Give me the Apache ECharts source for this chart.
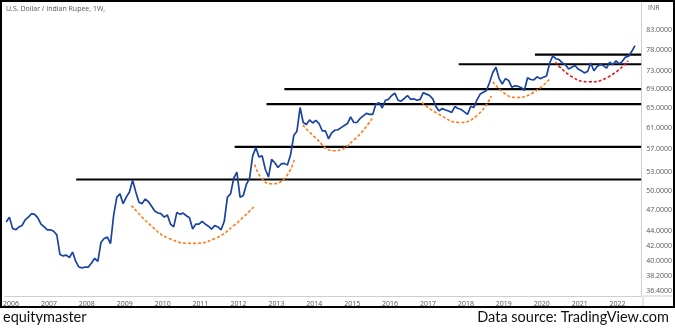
<!DOCTYPE html>
<html><head><meta charset="utf-8">
<script src="https://cdn.jsdelivr.net/npm/echarts@6/dist/echarts.min.js"></script>
<style>html,body{margin:0;padding:0;background:#fff}#c{width:675px;height:328px}</style>
</head><body><div id="c"></div>
<script>
// Monthly closes, USD/INR, starting Nov 2005
const startYear = 2005, startMonth = 11;
const usdInr = [
  45.3, 46.0,                                                             // 2005
  44.4, 44.2, 44.6, 44.8, 45.6, 46.0, 46.5, 46.4, 45.9, 45.0, 44.6, 44.2, // 2006
  44.2, 44.0, 43.5, 40.9, 40.7, 40.8, 40.5, 41.2, 40.0, 39.3, 39.2, 39.3, // 2007
  39.3, 39.8, 40.4, 40.0, 42.5, 43.0, 43.2, 42.3, 46.3, 49.0, 49.5, 48.0, // 2008
  49.0, 49.8, 51.7, 49.8, 48.2, 48.0, 48.7, 48.3, 47.6, 46.9, 46.6, 46.5, // 2009
  46.0, 46.3, 45.0, 44.6, 46.7, 46.4, 46.6, 46.2, 45.9, 44.3, 45.0, 45.0, // 2010
  45.4, 45.0, 44.7, 44.3, 44.8, 44.6, 44.2, 45.4, 49.0, 49.5, 52.0, 53.0, // 2011
  49.0, 49.2, 51.0, 52.0, 55.8, 57.3, 55.6, 55.8, 53.5, 52.2, 55.2, 54.6, // 2012
  53.8, 54.4, 54.5, 54.2, 56.0, 59.5, 60.3, 65.0, 62.0, 61.6, 62.5, 61.9, // 2013
  62.4, 61.8, 60.4, 60.4, 58.9, 60.0, 60.5, 60.6, 61.0, 61.4, 61.8, 63.1, // 2014
  62.0, 62.0, 62.8, 63.3, 63.8, 63.6, 63.6, 65.7, 66.0, 64.9, 66.5, 66.7, // 2015
  67.5, 68.0, 66.5, 66.3, 66.9, 67.5, 66.7, 66.8, 66.5, 66.7, 68.1, 67.8, // 2016
  67.5, 66.8, 65.2, 64.3, 64.8, 64.5, 64.3, 64.0, 65.2, 64.8, 64.6, 64.1, // 2017
  63.6, 65.2, 65.0, 66.6, 67.8, 68.2, 68.6, 70.4, 72.6, 73.8, 71.2, 70.0, // 2018
  71.2, 70.8, 69.3, 69.6, 69.5, 69.2, 68.6, 71.4, 71.0, 70.9, 71.6, 71.2, // 2019
  71.5, 71.8, 74.8, 76.5, 75.8, 75.6, 74.8, 74.4, 73.4, 73.8, 74.2, 73.4, // 2020
  73.0, 72.5, 72.8, 74.8, 73.0, 74.0, 74.4, 74.2, 73.6, 75.0, 74.4, 75.3, // 2021
  74.6, 75.2, 76.2, 76.4, 77.6, 79.0                                      // 2022
];
const yearTicks = [2006,2007,2008,2009,2010,2011,2012,2013,2014,2015,2016,2017,2018,2019,2020,2021,2022];
const priceTicks = [36.4, 38.2, 40, 42, 44, 47, 50, 53, 57, 61, 65, 69, 73, 78, 83];
const xMin = 2005.837, xMax = 2022.621;
const yMin = 35.87, yMax = 90.95;
// Horizontal resistance levels and the year where each starts
const resistanceLevels = [51.8, 57.4, 65.7, 68.9, 74.5, 76.8];
const resistanceStarts = [2007.72, 2011.90, 2012.74, 2013.21, 2017.81, 2019.82];
// Rounded bottoms (dashed arcs): [year, price]
const arcA = [[2009.18,47.7],[2009.73,44.6],[2010.17,43.0],[2010.78,42.35],[2011.38,43.0],[2011.90,44.9],[2012.40,47.5]];
const arcB = [[2012.43,54.3],[2012.61,52.0],[2012.87,51.1],[2013.22,52.0],[2013.48,55.3]];
const arcC = [[2013.70,61.5],[2014.00,59.3],[2014.52,56.7],[2015.05,58.7],[2015.54,63.0]];
const arcD = [[2016.84,66.0],[2017.31,63.5],[2017.84,62.0],[2018.31,63.5],[2018.67,67.4]];
const arcE = [[2018.71,70.5],[2019.01,68.0],[2019.32,67.1],[2019.75,68.0],[2020.23,71.3]];
const arcF = [[2020.36,75.0],[2020.80,71.6],[2021.24,70.5],[2021.76,71.6],[2022.28,75.3]];

const priceData = usdInr.map((v, i) => {
  const m = startMonth - 1 + i;
  const yr = startYear + Math.floor(m / 12);
  const mo = m % 12;
  return [yr + (mo + 0.5) / 12, v];
});

const series = [];
resistanceLevels.forEach((lv, i) => {
  series.push({ type: 'line', data: [[resistanceStarts[i], lv], [xMax, lv]], symbol: 'none',
    lineStyle: { color: '#000', width: 2.2 }, z: 2, silent: true });
});
[[arcA,'#ff7a1a'],[arcB,'#ff7a1a'],[arcC,'#ff7a1a'],[arcD,'#ff7a1a'],[arcE,'#ff7a1a'],[arcF,'#e8141c']].forEach(([arc, col]) => {
  series.push({ type: 'line', data: arc, symbol: 'none', smooth: true,
    lineStyle: { color: col, width: 1.6, type: [3, 2] }, z: 3, silent: true });
});
series.push({ type: 'line', data: priceData, symbol: 'none',
  lineStyle: { color: '#1a42a0', width: 1.7 }, z: 5 });

const chart = echarts.init(document.getElementById('c'), null, { renderer: 'canvas' });
chart.setOption({
  animation: false,
  backgroundColor: '#fff',
  grid: { left: 1, right: 32, top: 1, bottom: 32 },
  xAxis: {
    type: 'value', min: xMin, max: xMax,
    axisLine: { show: true, lineStyle: { color: '#cfcfcf', width: 1 } },
    axisTick: { show: false },
    splitLine: { show: false },
    axisLabel: { customValues: yearTicks, formatter: v => String(Math.round(v)),
      color: '#555', fontSize: 7, fontFamily: 'Open Sans', margin: 4 }
  },
  yAxis: {
    type: 'log', logBase: 10, min: yMin, max: yMax, position: 'right',
    axisLine: { show: true, lineStyle: { color: '#cfcfcf', width: 1 } },
    axisTick: { show: false },
    splitLine: { show: false },
    axisLabel: { customValues: priceTicks, formatter: v => Number(v).toFixed(4),
      color: '#555', fontSize: 7, fontFamily: 'Open Sans', margin: 5, align: 'left' }
  },
  series: series,
  graphic: [
    { type: 'rect', shape: { x: 1, y: 1, width: 673, height: 306 }, style: { fill: 'none', stroke: '#000', lineWidth: 2 }, z: 100 },
    { type: 'line', shape: { x1: 643, y1: 296, x2: 674, y2: 296 }, style: { stroke: '#cfcfcf', lineWidth: 1 } },
    { type: 'line', shape: { x1: 643, y1: 296, x2: 643, y2: 307 }, style: { stroke: '#cfcfcf', lineWidth: 1 } },
    { type: 'text', x: 6, y: 5, style: { text: 'U.S. Dollar / Indian Rupee, 1W,', fill: '#555', fontSize: 7, fontFamily: 'Open Sans' } },
    { type: 'text', x: 648, y: 4, style: { text: 'INR', fill: '#555', fontSize: 7, fontFamily: 'Open Sans' } },
    { type: 'text', x: 3, y: 310, style: { text: 'equitymaster', fill: '#111', fontSize: 14.5, fontFamily: 'Lato' } },
    { type: 'text', x: 669, y: 310, style: { text: 'Data source: TradingView.com', fill: '#111', fontSize: 14.5, fontFamily: 'Lato', align: 'right' } }
  ]
});
</script></body></html>
